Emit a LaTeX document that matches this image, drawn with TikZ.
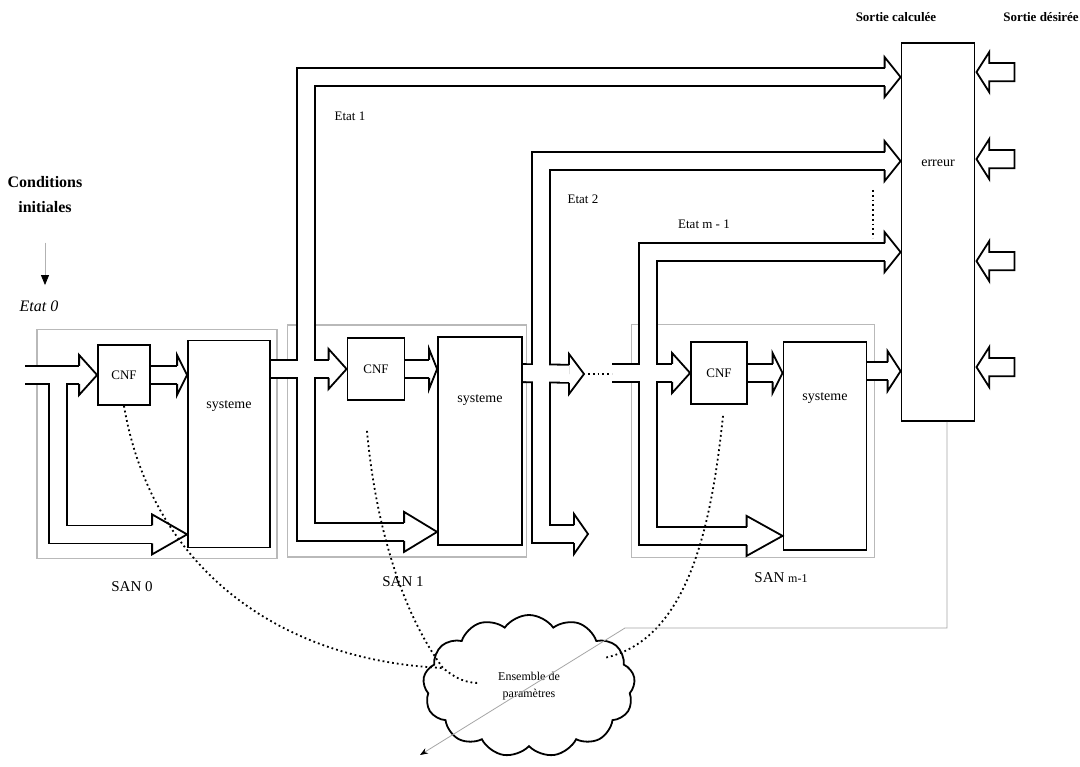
\documentclass[tikz,border=0pt]{standalone}
\usepackage{fontspec}
\setmainfont{Liberation Serif}
\usepackage{tikz}
\usetikzlibrary{positioning, arrows.meta, shapes.arrows, shapes.symbols}

\pgfdeclarelayer{bg}
\pgfdeclarelayer{pipeout}
\pgfdeclarelayer{pipein}
\pgfsetlayers{bg,pipeout,pipein,main}

% double channel: black strokes below, white cores above them
\newcommand\chan[2][]{%
  \begin{pgfonlayer}{pipeout}\draw[line width=19.8pt, #1] #2;\end{pgfonlayer}%
  \begin{pgfonlayer}{pipein}\draw[line width=16.2pt, white, #1] #2;\end{pgfonlayer}}

\begin{document}
\begin{tikzpicture}[x=1pt, y=-1pt,
  box/.style={draw, line width=1.8pt, inner sep=0pt, font=\fontsize{13}{15}\selectfont},
  san/.style={draw=gray!55, line width=1.1pt, inner sep=0pt},
  lbl/.style={font=\fontsize{14}{16}\selectfont},
  dots/.style={line width=1.8pt, dash pattern=on 1.8pt off 3pt},
  desire/.style={single arrow, draw, line width=1.8pt, shape border rotate=180,
    minimum height=38pt, minimum width=40pt, single arrow head extend=11pt,
    single arrow tip angle=115, inner xsep=0pt, inner ysep=8.2pt, anchor=tip},
  pics/bhead/.style={code={\draw[line width=1.8pt] (-#1,9) -- (-#1,20) -- (0,0) -- (-#1,-20) -- (-#1,-9);}}]

\useasboundingbox (0,0) rectangle (1080,767);

% background and SAN frames
\begin{pgfonlayer}{bg}
  \fill[white] (0,0) rectangle (1080,767);
  \node[san, minimum width=240pt, minimum height=229pt] (san0) at (157,444) {};
  \node[san, minimum width=239pt, minimum height=232pt] (san1) at (407,441) {};
  \node[san, minimum width=243pt, minimum height=233pt] (sanm) at (753,441) {};
\end{pgfonlayer}

% blocks
\node[box, minimum width=52pt, minimum height=60pt] (cnf0) at (124,375) {CNF};
\node[box, minimum width=82pt, minimum height=207pt] (sys0) at (229,444) {};
\node[box, minimum width=57pt, minimum height=62pt] (cnf1) at (376,369) {CNF};
\node[box, minimum width=84pt, minimum height=208pt] (sys1) at (480,441) {};
\node[box, minimum width=56pt, minimum height=62pt] (cnfm) at (719,373) {CNF};
\node[box, minimum width=83pt, minimum height=208pt] (sysm) at (825,446) {};
\node[box, minimum width=73pt, minimum height=378pt] (err) at (938,232) {};

\node[lbl] (tsys0) at (sys0 |- 0,406) {systeme};
\node[lbl] (tsys1) at (sys1 |- 0,400) {systeme};
\node[lbl] (tsysm) at (sysm |- 0,398) {systeme};
\node[lbl] (terr) at (err |- 0,163) {erreur};

% SAN 0
\coordinate (in0) at (25,375);
\coordinate (j0) at (58,375);
\coordinate (b0) at ([yshift=14pt]sys0.south west);
\chan[shorten >=18pt]{(in0) -- (cnf0.west)}
\chan[shorten >=35pt]{(j0) |- (b0)}
\chan[shorten >=10pt]{(cnf0.east) -- (cnf0.east -| sys0.west)}

% SAN 1 and Etat 1
\coordinate (j1) at (306,369);
\coordinate (e1) at ([yshift=-35pt]err.north west);
\coordinate (b1) at ([yshift=14pt]sys1.south west);
\chan[shorten >=18pt]{(sys0.east |- cnf1.west) -- (cnf1.west)}
\chan[shorten >=16pt]{(j1) |- (e1)}
\chan[shorten >=33pt]{(j1) |- (b1)}
\chan[shorten >=8pt]{(cnf1.east) -- (cnf1.east -| sys1.west)}

% SAN 1 output and Etat 2
\coordinate (o1) at ([yshift=-37pt]sys1.north east);
\coordinate (d1) at (584,374);
\coordinate (j2) at (541,374);
\coordinate (e2) at ([yshift=-119pt]err.north west);
\coordinate (d2) at (588,534);
\chan[shorten >=15pt]{(o1) -- (d1)}
\chan[shorten >=16pt]{(j2) |- (e2)}
\chan[shorten >=14pt]{(j2) |- (d2)}

% SAN m-1 and Etat m-1
\coordinate (im) at (612,373);
\coordinate (jm) at (648,373);
\coordinate (em) at ([yshift=-210pt]err.north west);
\coordinate (bm) at ([yshift=15pt]sysm.south west);
\coordinate (om) at ([yshift=-30pt]sysm.north east);
\chan[shorten >=18pt]{(im) -- (cnfm.west)}
\chan[shorten >=16pt]{(jm) |- (em)}
\chan[shorten >=36pt]{(jm) |- (bm)}
\chan[shorten >=10pt]{(cnfm.east) -- (cnfm.east -| sysm.west)}
\chan[shorten >=13pt]{(om) -- (om -| err.west)}

% arrow heads
\pic at (cnf0.west) {bhead=18};
\pic at (b0) {bhead=35};
\pic at (cnf0.east -| sys0.west) {bhead=10};
\pic at (cnf1.west) {bhead=18};
\pic at (e1) {bhead=16};
\pic at (b1) {bhead=33};
\pic at (cnf1.east -| sys1.west) {bhead=8};
\pic at (d1) {bhead=15};
\pic at (e2) {bhead=16};
\pic at (d2) {bhead=14};
\pic at (cnfm.west) {bhead=18};
\pic at (em) {bhead=16};
\pic at (bm) {bhead=36};
\pic at (cnfm.east -| sysm.west) {bhead=10};
\pic at (om -| err.west) {bhead=13};

\draw[dots, line width=1.4pt, shorten <=4pt] (d1) -- (d1 -| im);
\draw[dots, line width=1.4pt] (873,190) -- (873,238);

% desired outputs
\foreach \i/\y in {1/30, 2/117, 3/219, 4/325}
  \node[desire] (sd\i) at ([yshift=-\y pt]err.north east) {};

% texts
\node[font=\bfseries\fontsize{16}{25}\selectfont, align=center] (cond) at (45,195) {Conditions\\initiales};
\node[font=\itshape\fontsize{16}{18}\selectfont] (etat0) at (39,306) {Etat 0};
\draw[gray!60, line width=0.8pt, shorten <=26pt, shorten >=12pt, -{Triangle[length=10pt, width=8pt, color=black]}] (cond.south) -- (cond.south |- etat0.north);
\node[font=\fontsize{13}{15}\selectfont] (etat1) at (350,116) {Etat 1};
\node[font=\fontsize{13}{15}\selectfont] (etat2) at (583,199) {Etat 2};
\node[font=\fontsize{13}{15}\selectfont] (etatm) at (704,224) {Etat m - 1};
\node[font=\bfseries\fontsize{13}{15}\selectfont] (scal) at (896,17) {Sortie calculée};
\node[font=\bfseries\fontsize{13}{15}\selectfont] (sdes) at (1041,17) {Sortie désirée};
\node[font=\fontsize{15}{17}\selectfont] (lsan0) at (132,587) {SAN 0};
\node[font=\fontsize{15}{17}\selectfont] (lsan1) at (403,582) {SAN 1};
\node[font=\fontsize{15}{17}\selectfont] (lsanm) at (781,578) {SAN {\fontsize{12}{14}\selectfont m-1}};

% parameter set
\node[cloud, draw, line width=1.8pt, cloud puffs=13, cloud puff arc=110, aspect=1.5,
  minimum width=212pt, minimum height=142pt, align=center, font=\fontsize{12}{17}\selectfont] (param) at (529,686) {Ensemble de\\paramètres};

\coordinate (pin) at (443,668);
\draw[dots] (cnf0.south) .. controls (150,560) and (270,660) .. (pin);
\draw[dots] ([shift={(-9,30)}]cnf1.south) .. controls (375,520) and (400,610) .. (pin) .. controls (455,678) and (465,683) .. (479,683);
\draw[dots] ([shift={(4,11)}]cnfm.south) .. controls (712,520) and (690,640) .. (604,658);

% error feedback
\coordinate (fb) at (947,628);
\coordinate (fbk) at (625,628);
\coordinate (fbend) at (420,755);
\draw[gray!70, line width=0.8pt, -{Stealth[length=8pt, width=6pt, color=black]}] (err.south -| fb) -- (fb) -- (fbk) -- (fbend);

\end{tikzpicture}
\end{document}
